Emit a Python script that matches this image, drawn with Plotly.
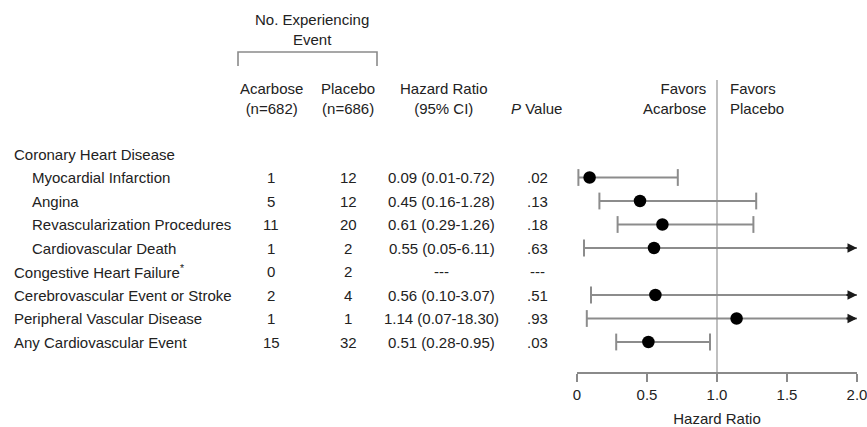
import plotly.graph_objects as go

# ---------------- data ----------------
labels = [
    "Coronary Heart Disease",
    "Myocardial Infarction",
    "Angina",
    "Revascularization Procedures",
    "Cardiovascular Death",
    "Congestive Heart Failure<sup>*</sup>",
    "Cerebrovascular Event or Stroke",
    "Peripheral Vascular Disease",
    "Any Cardiovascular Event",
]
indented = [False, True, True, True, True, False, False, False, False]
acarbose_n = ["", "1", "5", "11", "1", "0", "2", "1", "15"]
placebo_n = ["", "12", "12", "20", "2", "2", "4", "1", "32"]
hr = [None, 0.09, 0.45, 0.61, 0.55, None, 0.56, 1.14, 0.51]
ci_low = [None, 0.01, 0.16, 0.29, 0.05, None, 0.10, 0.07, 0.28]
ci_high = [None, 0.72, 1.28, 1.26, 6.11, None, 3.07, 18.30, 0.95]
p_values = ["", ".02", ".13", ".18", ".63", "---", ".51", ".93", ".03"]
x_tickvals = [0, 0.5, 1.0, 1.5, 2.0]
x_ticktext = ["0", "0.5", "1.0", "1.5", "2.0"]
x_max = 2.0

W, H = 867, 427
FONT = "Liberation Sans, Arial, sans-serif"
TXT = "#222222"
GRAY = "#8c8c8c"
FS = 15

rows = list(range(len(labels)))


def px(xp):
    return xp / W


def py(yp):
    return 1 - yp / H


fig = go.Figure()

# CI lines
lx, ly = [], []
for i in rows:
    if hr[i] is None:
        continue
    lx += [ci_low[i], min(ci_high[i], x_max), None]
    ly += [i, i, None]
fig.add_trace(go.Scatter(x=lx, y=ly, mode="lines", line=dict(color=GRAY, width=2),
                         hoverinfo="skip", showlegend=False, cliponaxis=False))

# caps
cx, cy = [], []
for i in rows:
    if hr[i] is None:
        continue
    cx.append(ci_low[i]); cy.append(i)
    if ci_high[i] <= x_max:
        cx.append(ci_high[i]); cy.append(i)
fig.add_trace(go.Scatter(x=cx, y=cy, mode="markers",
                         marker=dict(symbol="line-ns", size=12, line=dict(color=GRAY, width=2)),
                         hoverinfo="skip", showlegend=False, cliponaxis=False))

# point estimates
px_hr = [hr[i] for i in rows if hr[i] is not None]
py_hr = [i for i in rows if hr[i] is not None]
fig.add_trace(go.Scatter(x=px_hr, y=py_hr, mode="markers",
                         marker=dict(symbol="circle", size=12.5, color="black"),
                         showlegend=False, cliponaxis=False))

ann = []
# arrows for truncated CIs
for i in rows:
    if hr[i] is not None and ci_high[i] > x_max:
        ann.append(dict(x=x_max, y=i, xref="x", yref="y", ax=-12, ay=0, text="",
                        showarrow=True, arrowhead=2, arrowsize=1, arrowwidth=1.9,
                        arrowcolor="#1a1a1a"))


def add_text(t, x, y, yref="y", xanchor="center", align="center"):
    if t == "":
        return
    ann.append(dict(x=x, y=y, xref="paper", yref=yref, text=t, showarrow=False,
                    xanchor=xanchor, yanchor="middle", align=align,
                    font=dict(family=FONT, size=FS, color=TXT)))


# row text columns
for i in rows:
    add_text(labels[i], px(30 if indented[i] else 12), i, xanchor="left", align="left")
    add_text(acarbose_n[i], px(271), i)
    add_text(placebo_n[i], px(348), i)
    if i == 0:
        hr_txt = ""
    elif hr[i] is None:
        hr_txt = "---"
    else:
        hr_txt = f"{hr[i]:.2f} ({ci_low[i]:.2f}-{ci_high[i]:.2f})"
    add_text(hr_txt, px(442), i)
    add_text(p_values[i], px(537), i)

# headers
add_text("No. Experiencing<br>Event", px(312), py(29.5), yref="paper")
add_text("Acarbose<br>(n=682)", px(271), py(98), yref="paper")
add_text("Placebo<br>(n=686)", px(348), py(98), yref="paper")
add_text("Hazard Ratio<br>(95% CI)", px(444), py(98), yref="paper")
add_text("<i>P</i> Value", px(536), py(108), yref="paper")
add_text("Favors<br>Acarbose", px(708), py(98), yref="paper", xanchor="right", align="right")
add_text("Favors<br>Placebo", px(728), py(98), yref="paper", xanchor="left", align="left")

shapes = [
    # bracket
    dict(type="path", xref="paper", yref="paper",
         path=f"M {px(238)},{py(66)} L {px(238)},{py(52)} L {px(377)},{py(52)} L {px(377)},{py(66)}",
         line=dict(color="#8a8a8a", width=1.6)),
    # reference line at HR = 1
    dict(type="line", xref="x", yref="paper", x0=1.0, x1=1.0, y0=py(372), y1=py(80),
         line=dict(color="#b0b0b0", width=1.6), layer="below"),
]

row_px = 23.5
top_px = 154
plot_h = 372
r0 = -top_px / row_px
r1 = r0 + plot_h / row_px

fig.update_layout(
    width=W, height=H,
    margin=dict(l=0, r=0, t=0, b=0),
    paper_bgcolor="white", plot_bgcolor="white",
    annotations=ann, shapes=shapes,
    xaxis=dict(domain=[577 / W, 857 / W], range=[0, x_max], tickvals=x_tickvals,
               ticktext=x_ticktext, showgrid=False, zeroline=False, showline=True,
               linecolor="#8a8a8a", linewidth=2, ticks="outside", ticklen=8, tickwidth=2,
               tickcolor="#8a8a8a", tickfont=dict(family=FONT, size=FS, color=TXT),
               ticklabeloverflow="allow",
               title=dict(text="Hazard Ratio", font=dict(family=FONT, size=FS, color=TXT),
                          standoff=11),
               automargin=False, fixedrange=True),
    yaxis=dict(domain=[1 - plot_h / H, 1], range=[r1, r0], visible=False,
               showgrid=False, zeroline=False, automargin=False, fixedrange=True),
    showlegend=False,
)

fig.write_html(
    "out.html",
    config={"displayModeBar": False},
    post_script="document.body.style.margin='0px';document.body.style.overflow='hidden';",
)
